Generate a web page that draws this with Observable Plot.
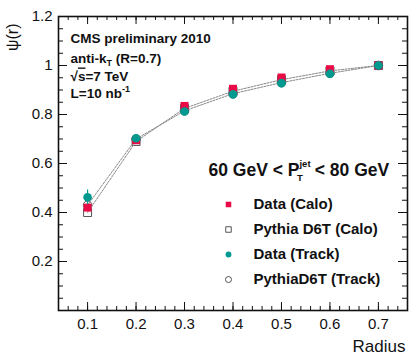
<!DOCTYPE html>
<html>
<head>
<meta charset="utf-8">
<script src="https://cdn.jsdelivr.net/npm/d3@7"></script>
<script src="https://cdn.jsdelivr.net/npm/@observablehq/plot@0.6"></script>
<style>
  html, body { margin: 0; padding: 0; background: #fff; }
  #chart svg { display: block; }
</style>
</head>
<body>
<div id="chart"></div>
<script>
// ---- data ----
const radius = [0.1, 0.2, 0.3, 0.4, 0.5, 0.6, 0.7];
const dataCalo = [0.42, 0.695, 0.835, 0.905, 0.951, 0.985, 1.0];
const pythiaCalo = [0.40, 0.69, 0.825, 0.895, 0.942, 0.978, 1.0];
const dataTrack = [0.462, 0.703, 0.812, 0.882, 0.928, 0.966, 1.0];
const dataTrackErr = [0.03, 0.01, 0.006, 0.005, 0.004, 0.003, 0.0];
const pythiaTrack = [0.43, 0.70, 0.815, 0.885, 0.93, 0.968, 1.0];

const xMajor = [0.1, 0.2, 0.3, 0.4, 0.5, 0.6, 0.7];
const xTickLabels = ["0.1", "0.2", "0.3", "0.4", "0.5", "0.6", "0.7"];
const yMajor = [0.2, 0.4, 0.6, 0.8, 1.0, 1.2];
const yTickLabels = ["0.2", "0.4", "0.6", "0.8", "1", "1.2"];
const xMinor = d3.range(0.04, 0.761, 0.02);
const yMinor = d3.range(0.05, 1.2, 0.05);

const notes = ["CMS preliminary 2010", "anti-kT (R=0.7)", "√s=7 TeV", "L=10 nb-1"];
const binLabel = "60 GeV < PTjet < 80 GeV";
const legendLabels = ["Data (Calo)", "Pythia D6T (Calo)", "Data (Track)", "PythiaD6T (Track)"];
const xLabel = "Radius";
const yLabel = "ψ(r)";

// ---- styles ----
const RED = "#ea0a46";
const TEAL = "#009990";
const GREY = "#555";
const W = 415, H = 356;
const mL = 58, mR = 8, mT = 16, mB = 46;
const innerH = H - mT - mB, innerW = W - mL - mR;

const rows = radius.map((r, i) => ({
  r, dc: dataCalo[i], pc: pythiaCalo[i], dt: dataTrack[i], err: dataTrackErr[i], pt: pythiaTrack[i]
}));
const legendSymbols = ["square", "square", "circle", "circle"];
const legendFill = [RED, "none", TEAL, "none"];
const legendStroke = ["none", GREY, "none", GREY];
const legendR = [3.6, 3.6, 3.2, 3.4];
const legend = legendLabels.map((label, i) => ({
  label, symbol: legendSymbols[i], fill: legendFill[i], stroke: legendStroke[i], rr: legendR[i],
  y: 0.4327 - i * 0.1021
}));
const fmtX = d => xTickLabels[xMajor.findIndex(v => Math.abs(v - d) < 1e-9)];
const fmtY = d => yTickLabels[yMajor.findIndex(v => Math.abs(v - d) < 1e-9)];

const chart = Plot.plot({
  width: W, height: H,
  marginLeft: mL, marginRight: mR, marginTop: mT, marginBottom: mB,
  x: {domain: [0.04, 0.76]},
  y: {domain: [0, 1.2]},
  style: {fontFamily: "'Liberation Sans', Arial, Helvetica, sans-serif", background: "#fff", color: "#111"},
  marks: [
    // ticks (inward, mirrored)
    Plot.tickX(xMinor, {x: d => d, insetTop: innerH - 4, stroke: "#111"}),
    Plot.tickX(xMinor, {x: d => d, insetBottom: innerH - 4, stroke: "#111"}),
    Plot.tickX(xMajor, {x: d => d, insetTop: innerH - 8, stroke: "#111"}),
    Plot.tickX(xMajor, {x: d => d, insetBottom: innerH - 8, stroke: "#111"}),
    Plot.tickY(yMinor, {y: d => d, insetRight: innerW - 5, stroke: "#111"}),
    Plot.tickY(yMinor, {y: d => d, insetLeft: innerW - 5, stroke: "#111"}),
    Plot.tickY(yMajor, {y: d => d, insetRight: innerW - 9, stroke: "#111"}),
    Plot.tickY(yMajor, {y: d => d, insetLeft: innerW - 9, stroke: "#111"}),
    Plot.axisX({ticks: xMajor, tickSize: 0, tickPadding: 8, fontSize: 15, tickFormat: fmtX, label: null}),
    Plot.axisY({ticks: yMajor, tickSize: 0, tickPadding: 6, fontSize: 15, tickFormat: fmtY, label: null}),
    Plot.frame({stroke: "#111", strokeWidth: 1.6}),
    // axis titles
    Plot.text([xLabel], {text: d => d, frameAnchor: "bottom-right", textAnchor: "end", dy: 41, dx: -2, fontSize: 17}),
    Plot.text([yLabel], {text: d => d, frameAnchor: "top-left", textAnchor: "end", rotate: -90, dx: -52, dy: 7, fontSize: 16}),
    // pythia markers
    Plot.dot(rows, {x: "r", y: "pc", symbol: "square", r: 4.5, stroke: GREY, fill: "none", strokeWidth: 1}),
    Plot.dot(rows, {x: "r", y: "pt", symbol: "circle", r: 4.3, stroke: GREY, fill: "none", strokeWidth: 1}),
    // pythia dashed lines
    Plot.line(rows, {x: "r", y: "pc", stroke: "#888", strokeWidth: 1, strokeDasharray: "2,1.3"}),
    Plot.line(rows, {x: "r", y: "pt", stroke: "#888", strokeWidth: 1, strokeDasharray: "2,1.3"}),
    // data markers
    Plot.dot(rows, {x: "r", y: "dc", symbol: "square", r: 4.5, fill: RED}),
    Plot.ruleX(rows, {x: "r", y1: d => d.dt - d.err, y2: d => d.dt + d.err, stroke: TEAL, strokeWidth: 1.2}),
    Plot.dot(rows, {x: "r", y: "dt", symbol: "circle", r: 4.3, fill: TEAL}),
    // annotations
    Plot.text(notes, {text: d => d, frameAnchor: "top-left", textAnchor: "start", lineAnchor: "bottom",
      dx: 12, fontSize: 13.5, fontWeight: "bold"}),
    Plot.text([binLabel], {text: d => d, frameAnchor: "top-left", textAnchor: "start", lineAnchor: "bottom",
      dx: 150, dy: 159, fontSize: 17.5, fontWeight: "bold"}),
    // legend
    Plot.dot(legend, {x: () => 0.3907, y: "y", symbol: "symbol", r: "rr", fill: d => d.fill, stroke: d => d.stroke, strokeWidth: 1}),
    Plot.text(legend, {x: () => 0.4423, y: "y", text: "label", textAnchor: "start", fontSize: 15, fontWeight: "bold"})
  ]
});
document.getElementById("chart").appendChild(chart);

// place the note lines and add sub/superscripts as tspans
const noteY = [26, 46, 64, 81];
chart.querySelectorAll("text").forEach(t => {
  const s = t.textContent;
  const ni = notes.indexOf(s);
  if (ni >= 0) {
    const tr = t.getAttribute("transform") || "";
    t.setAttribute("transform", tr + ` translate(0,${noteY[ni]})`);
  }
  if (s === notes[1]) {
    t.innerHTML = 'anti-k<tspan dy="3" font-size="9">T</tspan><tspan dy="-3"> (R=0.7)</tspan>';
  } else if (s === notes[2]) {
    t.innerHTML = '√<tspan text-decoration="overline">s</tspan>=7 TeV';
  } else if (s === notes[3]) {
    t.innerHTML = 'L=10 nb<tspan dy="-6" font-size="9">-1</tspan>';
  } else if (s === binLabel) {
    t.innerHTML = '60 GeV &lt; P<tspan dy="-9" font-size="9.5">jet</tspan><tspan dx="-13.5" dy="14" font-size="9.5">T</tspan><tspan dx="7" dy="-5"> &lt; 80 GeV</tspan>';
  }
});
</script>
</body>
</html>
